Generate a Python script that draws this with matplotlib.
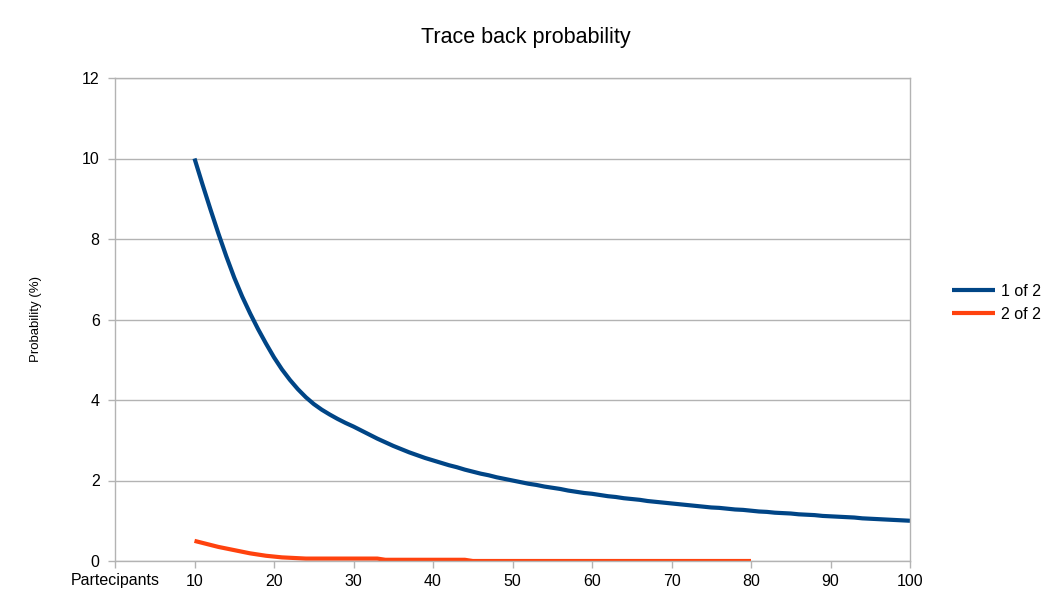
import matplotlib
matplotlib.use("Agg")
import matplotlib.pyplot as plt

plt.rcParams['font.family'] = ['Liberation Sans', 'DejaVu Sans']

# participants 10..100 and "1 of 2" probability (%)
n_one = list(range(10, 101))
p_one = [10.0, 9.36, 8.74, 8.14, 7.57, 7.04, 6.57, 6.15, 5.76, 5.4,
         5.06, 4.76, 4.5, 4.27, 4.07, 3.9, 3.76, 3.64, 3.53, 3.43,
         3.34, 3.24, 3.14, 3.04, 2.95, 2.86, 2.78, 2.7, 2.63, 2.56,
         2.5, 2.44, 2.38, 2.33, 2.27, 2.22, 2.17, 2.13, 2.08, 2.04,
         2.0, 1.96, 1.92, 1.89, 1.85, 1.82, 1.79, 1.75, 1.72, 1.69,
         1.67, 1.64, 1.61, 1.59, 1.56, 1.54, 1.52, 1.49, 1.47, 1.45,
         1.43, 1.41, 1.39, 1.37, 1.35, 1.33, 1.32, 1.3, 1.28, 1.27,
         1.25, 1.23, 1.22, 1.2, 1.19, 1.18, 1.16, 1.15, 1.14, 1.12,
         1.11, 1.1, 1.09, 1.08, 1.06, 1.05, 1.04, 1.03, 1.02, 1.01,
         1.0]

# "2 of 2" probability (%), participants 10..80
n_two = list(range(10, 81))
p_two = [0.5, 0.45, 0.4, 0.35, 0.31, 0.27, 0.23, 0.19, 0.16, 0.13,
         0.11, 0.09, 0.08, 0.07] + [0.06] * 10 + [0.03] * 11 + [0.0] * 36

xticks = list(range(0, 101, 10))
xlabels = ['Partecipants'] + [str(v) for v in xticks[1:]]
yticks = list(range(0, 13, 2))

fig = plt.figure(figsize=(10.51, 6.04), dpi=100)
ax = fig.add_axes([115 / 1051, 1 - 561 / 604, (910 - 115) / 1051, (561 - 78) / 604])

ax.plot(n_one, p_one, color='#004586', lw=3, label='1 of 2', solid_capstyle='butt')
ax.plot(n_two, p_two, color='#ff420e', lw=3, label='2 of 2', solid_capstyle='butt')

ax.set_xlim(0, 100)
ax.set_ylim(0, 12)
ax.set_xticks(xticks)
ax.set_xticklabels(xlabels)
ax.set_yticks(yticks)
ax.grid(axis='y', color='#b3b3b3', lw=1)
ax.set_axisbelow(True)
for s in ax.spines.values():
    s.set_color('#b3b3b3')
    s.set_linewidth(1)
ax.tick_params(colors='#b3b3b3', labelcolor='black', labelsize=11.5,
               direction='out', length=5, width=1)
ax.tick_params(axis='y', pad=6)
ax.tick_params(axis='x', pad=4)

ax.set_ylabel('Probability (%)', fontsize=9.5, labelpad=29)

# title is centred on the whole figure, not on the plot area
fig.text(0.5, 1 - 38 / 604, 'Trace back probability', fontsize=15.5,
         ha='center', va='center')

ax.legend(loc='center left', bbox_to_anchor=(1.035, 0.535), frameon=False,
          fontsize=11.5, handlelength=2.7, handletextpad=0.35, labelspacing=0.5)

fig.savefig('out.png', dpi=100)
